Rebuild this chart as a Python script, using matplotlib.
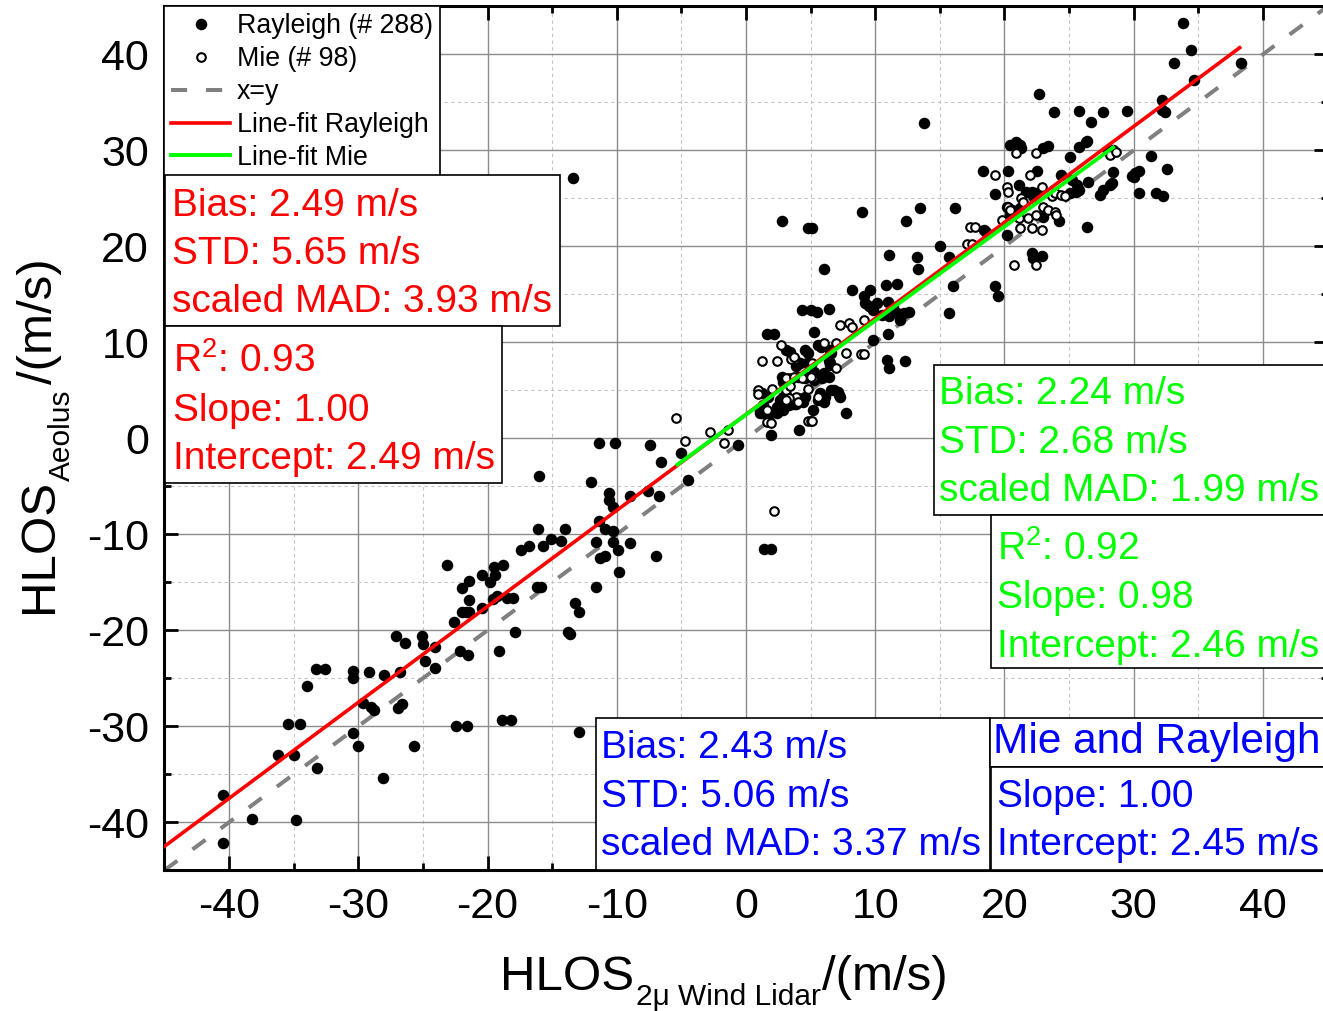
import numpy as np
import matplotlib
matplotlib.use('Agg')
import matplotlib.pyplot as plt
from matplotlib.lines import Line2D
from matplotlib.patches import Rectangle

plt.rcParams['font.family'] = ['Liberation Sans', 'DejaVu Sans']
plt.rcParams['mathtext.fontset'] = 'custom'
plt.rcParams['mathtext.rm'] = 'Liberation Sans'
plt.rcParams['mathtext.it'] = 'Liberation Sans:italic'
plt.rcParams['mathtext.default'] = 'regular'
plt.rcParams['axes.unicode_minus'] = False

# ---- data (m/s) ----
ray_x = [-40.5, -40.5, -38.2, -34.8, -36.2, -35.0, -33.2, -35.4, -34.5, -34.0, -33.3, -32.6, -30.4, -30.4,
         -30.4, -30.0, -28.1, -29.6, -29.0, -28.8, -29.2, -28.0, -27.1, -26.4, -26.9, -26.6, -26.8, -25.7,
         -25.1, -25.0, -24.1, -24.8, -24.1, -22.4, -21.6, -22.1, -21.5, -22.6, -22.0, -21.7, -21.4, -22.0,
         -21.4, -21.4, -20.4, -19.8, -19.6, -19.3, -18.5, -18.0, -19.1, -17.9, -18.9, -18.2, -16.2, -15.9,
         -13.2, -12.9, -13.8, -13.6, -12.9, -11.6,
         -23.1, -20.4, -19.5, -18.8, -19.4, -17.4, -16.8, -16.1, -15.7, -15.1, -14.3, -14.0, -16.0, -12.0,
         -11.4, -10.1, -7.4, -6.6, -10.6, -10.6, -10.3, -9.0, -7.6, -6.7, -11.4, -10.9, -10.3, -10.3, -9.9,
         -11.6, -9.0, -11.3, -10.9, -9.8, -7.0, -5.0, -4.5, -0.6, 1.4, 1.9,
         1.9, 4.1, 1.1, 2.8, 4.8, 5.1, 9.0, 12.4, 13.5, 16.2, 18.3, 19.3, 6.0, 11.1, 13.2, 13.3, 15.0, 15.7,
         18.6, 16.0, 19.3, 19.5, 15.7, 8.2, 10.8, 11.7, 4.3, 5.0, 5.5, 6.4, 9.1, 9.6, 9.2, 9.5, 9.8, 10.1,
         11.0, 11.4, 10.5, 11.1, 11.7, 12.2, 12.6, 11.9, 11.0, 9.8, 10.9, 11.1, 12.3, 5.3, 1.6, 2.2, 3.1,
         3.4, 4.6, 4.8, 5.6, 5.8, 6.5, 4.2, 2.8, 2.9, 1.2, 1.7, 1.1, 2.4, 2.9, 3.9, 4.4, 6.0, 6.8, 7.2, 7.7,
         4.7, 5.3, 6.0, 6.4, 2.9, 3.3, 5.2,
         6.5, 6.6, 4.7, 3.9, 6.4, 6.5, 3.4, 4.0, 4.6, 5.3, 5.9, 6.6, 7.1, 5.7, 6.1, 5.6, 7.3, 4.6, 4.0, 3.7,
         3.1, 3.4, 2.6, 2.4, 1.3, 1.9, 1.2,
         20.4, 20.9, 21.2, 21.3, 23.0, 23.4, 25.8, 26.3, 25.1, 20.3, 22.5, 21.1, 22.1, 22.4, 22.2, 24.4,
         23.0, 24.2, 25.2, 25.6, 25.5, 25.1, 25.8, 26.5, 20.2, 26.4, 28.0, 28.4, 27.4, 27.6, 28.2, 28.3,
         30.1, 30.0, 22.1, 22.9, 22.2, 20.6, 21.2, 20.4, 20.2, 21.7, 18.4,
         22.7, 23.8, 25.8, 27.6, 29.5, 26.7, 26.4, 31.3, 32.6, 29.9, 30.4, 30.4, 31.7, 32.3, 28.4,
         33.8, 34.4, 33.1, 38.3, 34.7, 32.2, 32.4, 32.2,
         -13.4, 13.8]
ray_y = [-37.2, -42.2, -39.7, -39.8, -33.0, -33.0, -34.3, -29.8, -29.8, -25.8, -24.0, -24.0, -24.2, -25.0,
         -30.7, -32.1, -35.4, -27.6, -28.0, -28.3, -24.3, -24.7, -20.6, -21.3, -28.1, -27.7, -24.3, -32.1,
         -20.6, -21.4, -21.7, -23.2, -23.9, -30.0, -30.0, -22.2, -22.6, -19.1, -18.1, -18.1, -18.1, -15.6,
         -16.8, -14.9, -17.7, -15.0, -16.7, -16.4, -16.6, -16.6, -22.2, -20.2, -29.3, -29.3, -15.5, -15.5,
         -17.2, -18.1, -20.2, -20.4, -30.6, -15.5,
         -13.2, -14.2, -13.4, -13.2, -14.2, -11.6, -11.2, -9.4, -11.2, -10.5, -10.7, -9.4, -3.9, -4.6,
         -0.46, -0.46, -0.7, -2.5, -5.7, -6.4, -7.2, -6.0, -5.5, -6.0, -8.6, -9.4, -9.7, -10.8, -11.6,
         -10.8, -10.9, -12.5, -12.3, -13.9, -12.3, -1.5, -4.3, -0.7, -11.5, -11.5,
         0.3, 0.9, 2.8, 22.6, 21.9, 21.9, 23.6, 22.6, 24.0, 24.0, 27.8, 25.4, 17.6, 19.1, 18.9, 17.6, 20.0, 18.9,
         21.5, 15.9, 15.9, 14.8, 13.1, 15.4, 16.0, 16.1, 13.4, 13.4, 13.2, 13.5, 14.8, 15.5, 14.1, 13.8, 13.4, 14.1,
         14.2, 13.7, 12.8, 12.7, 13.0, 13.0, 13.2, 12.3, 10.9, 10.2, 8.2, 7.3, 8.1, 11.1, 10.9, 10.9, 9.2,
         9.0, 9.2, 8.9, 9.7, 9.5, 7.8, 7.8, 6.4, 5.9, 4.7, 4.3, 2.6, 2.6, 2.9, 3.6, 3.8, 3.8, 5.0, 4.5, 2.6,
         6.4, 6.1, 6.8, 6.4, 4.3, 3.5, 2.9,
         9.2, 8.9, 7.8, 7.5, 8.0, 7.6, 6.1, 6.4, 6.25, 6.9, 6.25, 5.0, 4.85, 4.7, 4.3, 4.0, 4.3, 4.3, 4.2, 3.6,
         4.5, 4.0, 4.0, 3.3, 3.5, 2.6, 2.6,
         30.6, 30.9, 30.6, 30.2, 30.2, 30.4, 30.3, 30.9, 29.3, 27.8, 27.8, 26.4, 25.7, 25.5, 25.2, 27.4,
         23.1, 22.6, 26.9, 26.4, 25.7, 25.5, 25.9, 26.7, 21.2, 22.0, 29.9, 30.0, 25.3, 25.9, 26.4, 26.6,
         27.6, 27.2, 19.3, 19.0, 18.75, 23.8, 24.0, 23.3, 24.1, 25.7, 21.7,
         35.9, 34.0, 34.1, 34.0, 34.1, 32.9, 31.0, 29.4, 28.1, 27.3, 27.8, 25.6, 25.6, 25.2, 27.7,
         43.3, 40.4, 39.1, 39.1, 37.3, 35.2, 34.0, 34.2,
         27.1, 32.8]

mie_x = [-5.4, -4.7, -2.8, -1.4, -1.7, 2.2, 0.95, 0.95, 1.6, 1.9, 4.8,
         19.3, 17.3, 17.7, 17.1, 17.5, 8.0, 8.2, 9.1, 2.7, 1.2, 2.4, 3.8, 5.1, 6.0, 7.0, 7.0, 7.7, 8.9, 9.1,
         2.0, 3.3, 4.3, 5.2, 3.1, 3.9, 4.8, 5.6, 1.6, 3.3, 5.0, 5.1,
         3.5, 3.7, 3.1, 3.7, 5.0, 3.4, 3.1, 4.0, 7.3,
         20.9, 22.4, 22.0, 20.2, 20.3, 22.9, 21.3, 21.4, 20.3, 20.4, 21.8, 22.4, 23.0, 23.4, 23.9, 24.0,
         23.7, 23.9, 24.4, 24.7, 21.2, 22.1, 22.9, 21.1, 19.8, 20.7, 22.4, 28.2, 28.6]
mie_y = [2.15, -0.25, 0.7, 0.9, -0.46, -7.6, 5.0, 4.6, 1.7, 1.6, 1.8,
         27.4, 22.0, 22.0, 20.2, 20.2, 12.0, 11.6, 12.3, 9.7, 8.1, 8.1, 8.3, 7.8, 9.9, 9.9, 7.3, 8.9, 8.8, 8.8,
         5.1, 6.3, 6.25, 6.25, 5.0, 4.3, 5.1, 4.3, 2.9, 4.2, 1.8, 1.8,
         8.3, 8.5, 6.25, 6.4, 6.4, 5.4, 4.0, 3.8, 11.8,
         29.7, 29.7, 27.4, 26.2, 25.7, 26.2, 25.0, 24.6, 24.1, 23.8, 22.9, 23.3, 24.1, 23.8, 23.6, 23.3,
         25.2, 25.5, 25.3, 25.2, 21.9, 21.9, 21.7, 22.9, 22.7, 18.05, 18.05, 29.5, 29.8]

# linear fits as printed in the boxes, and the x range each fit covers
ray_slope, ray_icpt, ray_xrange = 1.00, 2.49, [-45.0, 38.2]
mie_slope, mie_icpt, mie_xrange = 0.98, 2.46, [-5.3, 28.4]

ray_stats = ['Bias: 2.49 m/s', 'STD: 5.65 m/s', 'scaled MAD: 3.93 m/s']
ray_fit = ['R$^2$: 0.93', 'Slope: 1.00', 'Intercept: 2.49 m/s']
mie_stats = ['Bias: 2.24 m/s', 'STD: 2.68 m/s', 'scaled MAD: 1.99 m/s']
mie_fit = ['R$^2$: 0.92', 'Slope: 0.98', 'Intercept: 2.46 m/s']
all_stats = ['Bias: 2.43 m/s', 'STD: 5.06 m/s', 'scaled MAD: 3.37 m/s']
all_fit = ['Slope: 1.00', 'Intercept: 2.45 m/s']

RED, GREEN, BLUE = '#ff0000', '#00ff00', '#0000ff'
W, H = 1323, 1011


def fx(px):
    return px / W


def fy(py):
    return 1 - py / H


fig = plt.figure(figsize=(W / 100, H / 100), dpi=100)
ax = fig.add_axes([fx(164.4), fy(870.3), fx(1327.6) - fx(164.4), fy(6.3) - fy(870.3)])

ax.set_xlim(-45, 45)
ax.set_ylim(-45, 45)
ax.set_xticks(np.arange(-40, 41, 10))
ax.set_yticks(np.arange(-40, 41, 10))
ax.set_xticks(np.arange(-45, 46, 5), minor=True)
ax.set_yticks(np.arange(-45, 46, 5), minor=True)
ax.grid(which='major', color='#8c8c8c', lw=1.0, zorder=0)
ax.grid(which='minor', color='#c4c4c4', lw=0.8, ls=(0, (3, 3)), zorder=0)
ax.set_axisbelow(True)
ax.tick_params(which='both', direction='in', top=True, right=True, width=2.0, labelsize=31)
ax.tick_params(which='major', length=10)
ax.tick_params(which='minor', length=5)
ax.tick_params(axis='x', pad=12)
ax.tick_params(axis='y', pad=11)
for sp in ax.spines.values():
    sp.set_linewidth(2.2)

ax.plot([-45, 45], [-45, 45], color='#808080', lw=2.9, dashes=(4.0, 4.7), zorder=2)
rx = np.array(ray_xrange)
mx = np.array(mie_xrange)
ax.plot(rx, ray_slope * rx + ray_icpt, color=RED, lw=2.6, zorder=4)
ax.plot(mx, mie_slope * mx + mie_icpt, color=GREEN, lw=2.8, zorder=4)

ax.plot(ray_x, ray_y, 'o', color='black', ms=8.3, mew=0, zorder=3)
ax.plot(mie_x, mie_y, 'o', mfc='white', mec='black', ms=6.2, mew=1.5, zorder=3.5)

handles = [
    Line2D([], [], ls='none', marker='o', color='black', ms=8.3, mew=0),
    Line2D([], [], ls='none', marker='o', mfc='white', mec='black', ms=6.2, mew=1.5),
    Line2D([], [], color='#808080', lw=2.9, dashes=(4.0, 4.7)),
    Line2D([], [], color=RED, lw=2.6),
    Line2D([], [], color=GREEN, lw=2.8),
]
labels = ['Rayleigh (# 288)', 'Mie (# 98)', 'x=y', 'Line-fit Rayleigh', 'Line-fit Mie']
leg = ax.legend(handles, labels, loc='upper left', fontsize=19.3, frameon=True, fancybox=False,
                borderaxespad=0, borderpad=0.25, labelspacing=0.26, handlelength=2.2,
                handletextpad=0.26)
leg.get_frame().set_edgecolor('black')
leg.get_frame().set_linewidth(1.2)
leg.get_frame().set_alpha(1)
leg.set_zorder(10)


def stat_box(x0, y0, x1, y1, lines, baselines, tx, color, size=28):
    fig.add_artist(Rectangle((fx(x0), fy(y1)), fx(x1) - fx(x0), fy(y0) - fy(y1),
                             transform=fig.transFigure, fc='white', ec='black', lw=1.2, zorder=5))
    for s, b in zip(lines, baselines):
        fig.text(fx(tx), fy(b), s, color=color, fontsize=size, ha='left', va='baseline', zorder=6)


stat_box(165, 175, 560, 326, ray_stats, [216, 264, 312], 172, RED)
stat_box(165, 326, 502, 483, ray_fit, [372, 421, 469], 173, RED)
stat_box(934, 365, 1330, 515, mie_stats, [404, 453, 501], 939, GREEN)
stat_box(991, 515, 1330, 668, mie_fit, [560, 608, 657], 997, GREEN)
stat_box(596, 718, 990, 870, all_stats, [758, 807, 855], 601, BLUE)
stat_box(990, 718, 1330, 767, ['Mie and Rayleigh'], [753], 993, BLUE, size=30.5)
stat_box(991, 767, 1330, 870, all_fit, [807, 855], 997, BLUE)

# axis titles: main part, smaller subscript, unit (placed piece by piece like the original)
fig.text(fx(500), fy(990), 'HLOS', fontsize=35.5, ha='left', va='baseline')
fig.text(fx(636), fy(1005), '2μ Wind Lidar', fontsize=21.5, ha='left', va='baseline')
fig.text(fx(822), fy(990), '/(m/s)', fontsize=35.5, ha='left', va='baseline')

fig.text(fx(52), fy(613), 'HLOS', fontsize=35.5, ha='left', va='baseline', rotation=90, rotation_mode='anchor')
fig.text(fx(70), fy(481), 'Aeolus', fontsize=21.5, ha='left', va='baseline', rotation=90, rotation_mode='anchor')
fig.text(fx(52), fy(384), '/(m/s)', fontsize=35.5, ha='left', va='baseline', rotation=90, rotation_mode='anchor')

fig.savefig('out.png', dpi=100)
